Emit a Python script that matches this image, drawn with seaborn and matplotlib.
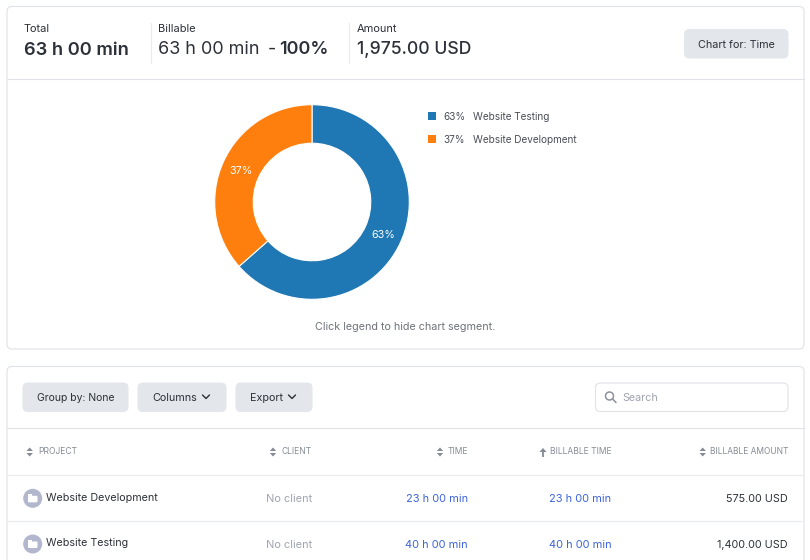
import matplotlib
matplotlib.use('Agg')
import matplotlib.pyplot as plt
from matplotlib.patches import FancyBboxPatch, Circle, Rectangle, Polygon
import seaborn as sns

# values
projects = ['Website Testing', 'Website Development']
hours = [40, 23]
pct_labels = ['63%', '37%']

summary_labels = ['Total', 'Billable', 'Amount']
total_time = '63 h 00 min'
billable_pct = '100%'
amount = '1,975.00 USD'

table_headers = ['PROJECT', 'CLIENT', 'TIME', 'BILLABLE TIME', 'BILLABLE AMOUNT']
row_projects = ['Website Development', 'Website Testing']
row_clients = ['No client', 'No client']
row_times = ['23 h 00 min', '40 h 00 min']
row_billable = ['23 h 00 min', '40 h 00 min']
row_amounts = ['575.00 USD', '1,400.00 USD']

sns.set_theme(style='white')
plt.rcParams['font.family'] = ['Inter', 'DejaVu Sans']
colors = sns.color_palette('tab10')[:2]

DARK = '#2c3038'
BORDER = '#dfe2e6'
BTN = '#e3e7eb'
LINK = '#3d63dd'
GREY = '#9fa4b0'
HEAD = '#858a94'

fig = plt.figure(figsize=(8.1, 5.6), dpi=100, facecolor='white')
ax = fig.add_axes([0, 0, 1, 1])
ax.set_xlim(0, 810)
ax.set_ylim(560, 0)
ax.axis('off')


def px(size):
    return size * 0.72


def txt(x, y, s, size=12, color=DARK, ha='left', weight='normal'):
    return ax.text(x, y + 1, s, fontsize=px(size), color=color, ha=ha, va='center', fontweight=weight)


def box(x0, y0, x1, y1, face='white', edge=BORDER, r=5, lw=0.8):
    ax.add_patch(FancyBboxPatch((x0, y0), x1 - x0, y1 - y0, boxstyle=f'round,pad=0,rounding_size={r}',
                                fc=face, ec=edge, lw=lw))


def hline(y, x0=7, x1=804, c=BORDER):
    ax.plot([x0, x1], [y, y], color=c, lw=0.8, solid_capstyle='butt')


def chevron(x, y):
    ax.plot([x - 3.5, x, x + 3.5], [y - 1.5, y + 2, y - 1.5], color=DARK, lw=1)


def sort_icon(x, y, up_only=False):
    if up_only:
        ax.add_patch(Polygon([(x - 3.5, y), (x + 3.5, y), (x, y - 4)], fc=HEAD, ec='none'))
        ax.plot([x, x], [y, y + 5], color=HEAD, lw=1.3, solid_capstyle='butt')
    else:
        ax.add_patch(Polygon([(x - 3.2, y - 1), (x + 3.2, y - 1), (x, y - 4.5)], fc=HEAD, ec='none'))
        ax.add_patch(Polygon([(x - 3.2, y + 1), (x + 3.2, y + 1), (x, y + 4.5)], fc=HEAD, ec='none'))


# cards
box(7, 6.5, 804, 349)
box(7, 366.5, 804, 600)
hline(79)

# summary strip
ax.plot([150.5, 150.5], [23, 63], color='#e8ebee', lw=0.8)
ax.plot([348.5, 348.5], [23, 63], color='#e8ebee', lw=0.8)
txt(24, 28.5, summary_labels[0], 11)
txt(24, 49.5, total_time, 18.3, weight='semibold')
txt(158, 27.5, summary_labels[1], 11)
txt(158, 48.5, total_time, 18)
txt(268, 48.5, '-', 18)
txt(279, 48.5, billable_pct, 18, weight='semibold')
txt(357, 27.5, summary_labels[2], 11)
txt(357, 48.5, amount, 17.6, weight='medium')

box(684.5, 29.5, 788, 58, face=BTN, edge=BTN)
txt(736, 43.5, 'Chart for: Time', 10.8, ha='center')

# donut
cx, cy, rad = 312, 202, 97.3
ax_pie = fig.add_axes([(cx - rad) / 810, 1 - (cy + rad) / 560, 2 * rad / 810, 2 * rad / 560])
wedges, _, autotexts = ax_pie.pie(hours, colors=colors, startangle=90, counterclock=False, radius=1,
                                  autopct='%.0f%%', pctdistance=0.8,
                                  wedgeprops=dict(width=0.396, edgecolor='white', linewidth=0.8))
for t in autotexts:
    t.set_color('white')
    t.set_fontsize(px(10.8))
    x0, y0 = t.get_position()
    t.set_position((x0, y0 - 0.01))
ax_pie.set_xlim(-1, 1)
ax_pie.set_ylim(-1, 1)

# legend
for i, y in enumerate([115.5, 139]):
    ax.add_patch(Rectangle((428, y - 4), 8, 8, fc=colors[i], ec='none'))
    txt(465, y, pct_labels[i], 10, color='#4a4e57', ha='right')
    txt(473, y, projects[i], 10, color='#4a4e57')

txt(405.5, 325.5, 'Click legend to hide chart segment.', 10.8, color='#6e727a', ha='center')

# toolbar
box(23, 383, 128, 411.5, face=BTN, edge=BTN)
txt(75.5, 397, 'Group by: None', 10.4, ha='center')
box(138, 383, 226, 411.5, face=BTN, edge=BTN)
txt(152, 397, 'Columns', 10.8)
chevron(206, 396.5)
box(236, 383, 312, 411.5, face=BTN, edge=BTN)
txt(250, 397, 'Export', 10.8)
chevron(292, 396.5)

box(595.5, 383, 788, 411.5)
ax.add_patch(Circle((609.5, 396), 4, fc='none', ec='#8c919c', lw=1.1))
ax.plot([612.5, 616], [399, 402.5], color='#8c919c', lw=1.1)
txt(622, 397, 'Search', 10.7, color=GREY)

# table
hline(428)
hline(475, c='#e8ebee')
hline(521, c='#e8ebee')

head_y = 451.5
txt(38.5, head_y - 0.5, table_headers[0], 8.5, color=HEAD)
sort_icon(29.7, head_y + 0.5)
txt(282, head_y - 0.5, table_headers[1], 8.5, color=HEAD)
sort_icon(273, head_y + 0.5)
txt(468, head_y - 0.5, table_headers[2], 8.5, color=HEAD, ha='right')
sort_icon(440, head_y + 0.5)
txt(611.5, head_y - 0.5, table_headers[3], 8.5, color=HEAD, ha='right')
sort_icon(543, head_y + 0.5, up_only=True)
txt(788, head_y - 0.5, table_headers[4], 8.4, color=HEAD, ha='right')
sort_icon(702.7, head_y + 0.5)

for i, y in enumerate([498.3, 544]):
    ax.add_patch(Circle((32.7, y), 9.5, fc='#b3b7ce', ec='none'))
    ax.add_patch(FancyBboxPatch((28, y - 2.5), 9.5, 6.5, boxstyle='round,pad=0,rounding_size=1', fc='white', ec='none'))
    ax.add_patch(Rectangle((28.3, y - 4), 4, 2, fc='white', ec='none'))
    txt(45.5, y - 1.5, row_projects[i], 10.7)
    txt(312, y - 0.5, row_clients[i], 11, color=GREY, ha='right')
    txt(468, y - 0.5, row_times[i], 11, color=LINK, ha='right')
    txt(611.5, y - 0.5, row_billable[i], 11, color=LINK, ha='right')
    txt(788, y - 0.5, row_amounts[i], 10.8, ha='right')

fig.savefig('out.png', dpi=100)
